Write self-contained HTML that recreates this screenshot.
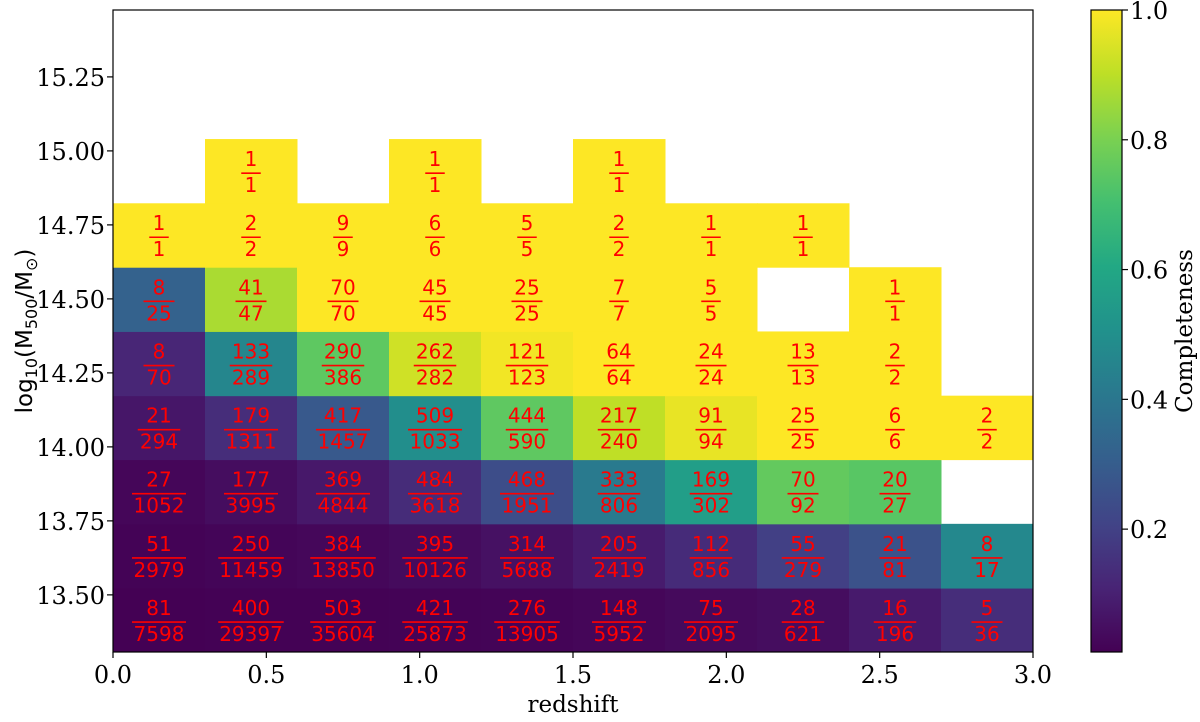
<!DOCTYPE html>
<html><head><meta charset="utf-8"><style>
body{margin:0;background:#fff;}
svg text{font-family:"DejaVu Serif","Liberation Serif",serif;}
</style></head><body>
<svg id="c" width="1200" height="717" xmlns="http://www.w3.org/2000/svg"></svg>
<script>
const zEdges=[0,0.3,0.6,0.9,1.2,1.5,1.8,2.1,2.4,2.7,3.0];
const mEdges=[13.307,13.523,13.74,13.957,14.173,14.39,14.607,14.823,15.04];
const numer=[
[81,400,503,421,276,148,75,28,16,5],
[51,250,384,395,314,205,112,55,21,8],
[27,177,369,484,468,333,169,70,20,null],
[21,179,417,509,444,217,91,25,6,2],
[8,133,290,262,121,64,24,13,2,null],
[8,41,70,45,25,7,5,null,1,null],
[1,2,9,6,5,2,1,1,null,null],
[null,1,null,1,null,1,null,null,null,null]];
const denom=[
[7598,29397,35604,25873,13905,5952,2095,621,196,36],
[2979,11459,13850,10126,5688,2419,856,279,81,17],
[1052,3995,4844,3618,1951,806,302,92,27,null],
[294,1311,1457,1033,590,240,94,25,6,2],
[70,289,386,282,123,64,24,13,2,null],
[25,47,70,45,25,7,5,null,1,null],
[1,2,9,6,5,2,1,1,null,null],
[null,1,null,1,null,1,null,null,null,null]];
const xTicks=[0.0,0.5,1.0,1.5,2.0,2.5,3.0];
const yTicks=[13.50,13.75,14.00,14.25,14.50,14.75,15.00,15.25];
const cTicks=[0.2,0.4,0.6,0.8,1.0];

const svg=document.getElementById('c');
const NS='http://www.w3.org/2000/svg';
const L=113,R=1033,T=10,B=652;
const xMin=0,xMax=3,yMin=13.307,yMax=15.476;
const X=v=>L+(v-xMin)/(xMax-xMin)*(R-L);
const Y=v=>B-(v-yMin)/(yMax-yMin)*(B-T);
const vmin=81/7598,vmax=1;
const CT=10,CB=652,CL=1091,CR=1122;
const CY=v=>CB-(v-vmin)/(vmax-vmin)*(CB-CT);
const stops=["#440154","#482475","#414487","#355f8d","#2a788e","#21918c","#22a884","#44bf70","#7ad151","#bddf26","#fde725"];
function hx(h){return[1,3,5].map(i=>parseInt(h.substr(i,2),16));}
function viridis(t){t=Math.max(0,Math.min(1,t));const p=t*10,i=Math.min(9,Math.floor(p)),f=p-i;const a=hx(stops[i]),b=hx(stops[i+1]);return'rgb('+a.map((c,k)=>Math.round(c+(b[k]-c)*f)).join(',')+')';}
function el(tag,attrs,txt){const e=document.createElementNS(NS,tag);for(const k in attrs)e.setAttribute(k,attrs[k]);if(txt!==undefined)e.textContent=txt;svg.appendChild(e);return e;}

for(let r=0;r<numer.length;r++){for(let c=0;c<numer[r].length;c++){
  const n=numer[r][c],d=denom[r][c];if(n===null||d===null)continue;
  const v=n/d;
  const x0=X(zEdges[c]),x1=X(zEdges[c+1]),y0=Y(mEdges[r+1]),y1=Y(mEdges[r]);
  const rc=el('rect',{x:x0,y:y0,width:x1-x0+0.5,height:y1-y0+0.5,fill:viridis((v-vmin)/(vmax-vmin))});
  
  
  const cx=(x0+x1)/2,cy=(y0+y1)/2;
  const t1=el('text',{x:cx,y:cy-5,'text-anchor':'middle','font-size':'20',fill:'#ff0000',style:'font-family:"DejaVu Sans",sans-serif'},String(n));
  
  
  const w=Math.max(String(n).length,String(d).length)*11.5+8;
  const ln=el('line',{x1:cx-w/2,x2:cx+w/2,y1:cy+2,y2:cy+2,stroke:'#ff0000','stroke-width':1.6});
  
  
  const t2=el('text',{x:cx,y:cy+21,'text-anchor':'middle','font-size':'20',fill:'#ff0000',style:'font-family:"DejaVu Sans",sans-serif'},String(d));
  
  
}}
const frame=el('rect',{x:L,y:T,width:R-L,height:B-T,fill:'none',stroke:'#000','stroke-width':1.2});


xTicks.forEach(v=>{
  const tk=el('line',{x1:X(v),x2:X(v),y1:B,y2:B+6,stroke:'#000','stroke-width':1.2});
  
  
  const t=el('text',{x:X(v),y:B+31,'text-anchor':'middle','font-size':'24',fill:'#000'},v.toFixed(1));
  
  
});
yTicks.forEach(v=>{
  const tk=el('line',{x1:L-6,x2:L,y1:Y(v),y2:Y(v),stroke:'#000','stroke-width':1.2});
  
  
  const t=el('text',{x:L-8,y:Y(v)+9,'text-anchor':'end','font-size':'24',fill:'#000'},v.toFixed(2));
  
  
});
const defs=el('defs',{});
const g=document.createElementNS(NS,'linearGradient');g.setAttribute('id','vg');g.setAttribute('x1','0');g.setAttribute('y1','1');g.setAttribute('x2','0');g.setAttribute('y2','0');
stops.forEach((s,i)=>{const st=document.createElementNS(NS,'stop');st.setAttribute('offset',(i/10).toFixed(2));st.setAttribute('stop-color',s);g.appendChild(st);});
defs.appendChild(g);
const cb=el('rect',{x:CL,y:CT,width:CR-CL,height:CB-CT,fill:'url(#vg)',stroke:'#000','stroke-width':1.2});


cTicks.forEach(v=>{
  const tk=el('line',{x1:CR,x2:CR+6,y1:CY(v),y2:CY(v),stroke:'#000','stroke-width':1.2});
  
  
  const t=el('text',{x:CR+8,y:CY(v)+9,'font-size':'24',fill:'#000'},v.toFixed(1));
  
  
});
</script>
<svg width="1200" height="717" style="position:absolute;left:0;top:0;pointer-events:none" xmlns="http://www.w3.org/2000/svg">
<text x="573" y="712" text-anchor="middle" font-size="23" style="font-family:'DejaVu Serif',serif">redshift</text>
<text transform="translate(32,331) rotate(-90)" text-anchor="middle" font-size="23" style="font-family:'DejaVu Sans',sans-serif">log<tspan font-size="16" dy="5">10</tspan><tspan dy="-5">(M</tspan><tspan font-size="16" dy="5">500</tspan><tspan dy="-5">/M</tspan><tspan font-size="16" dy="5">⊙</tspan><tspan dy="-5">)</tspan></text>
<text transform="translate(1192,331) rotate(-90)" text-anchor="middle" font-size="23" style="font-family:'DejaVu Serif',serif">Completeness</text>
</svg>
</body></html>
